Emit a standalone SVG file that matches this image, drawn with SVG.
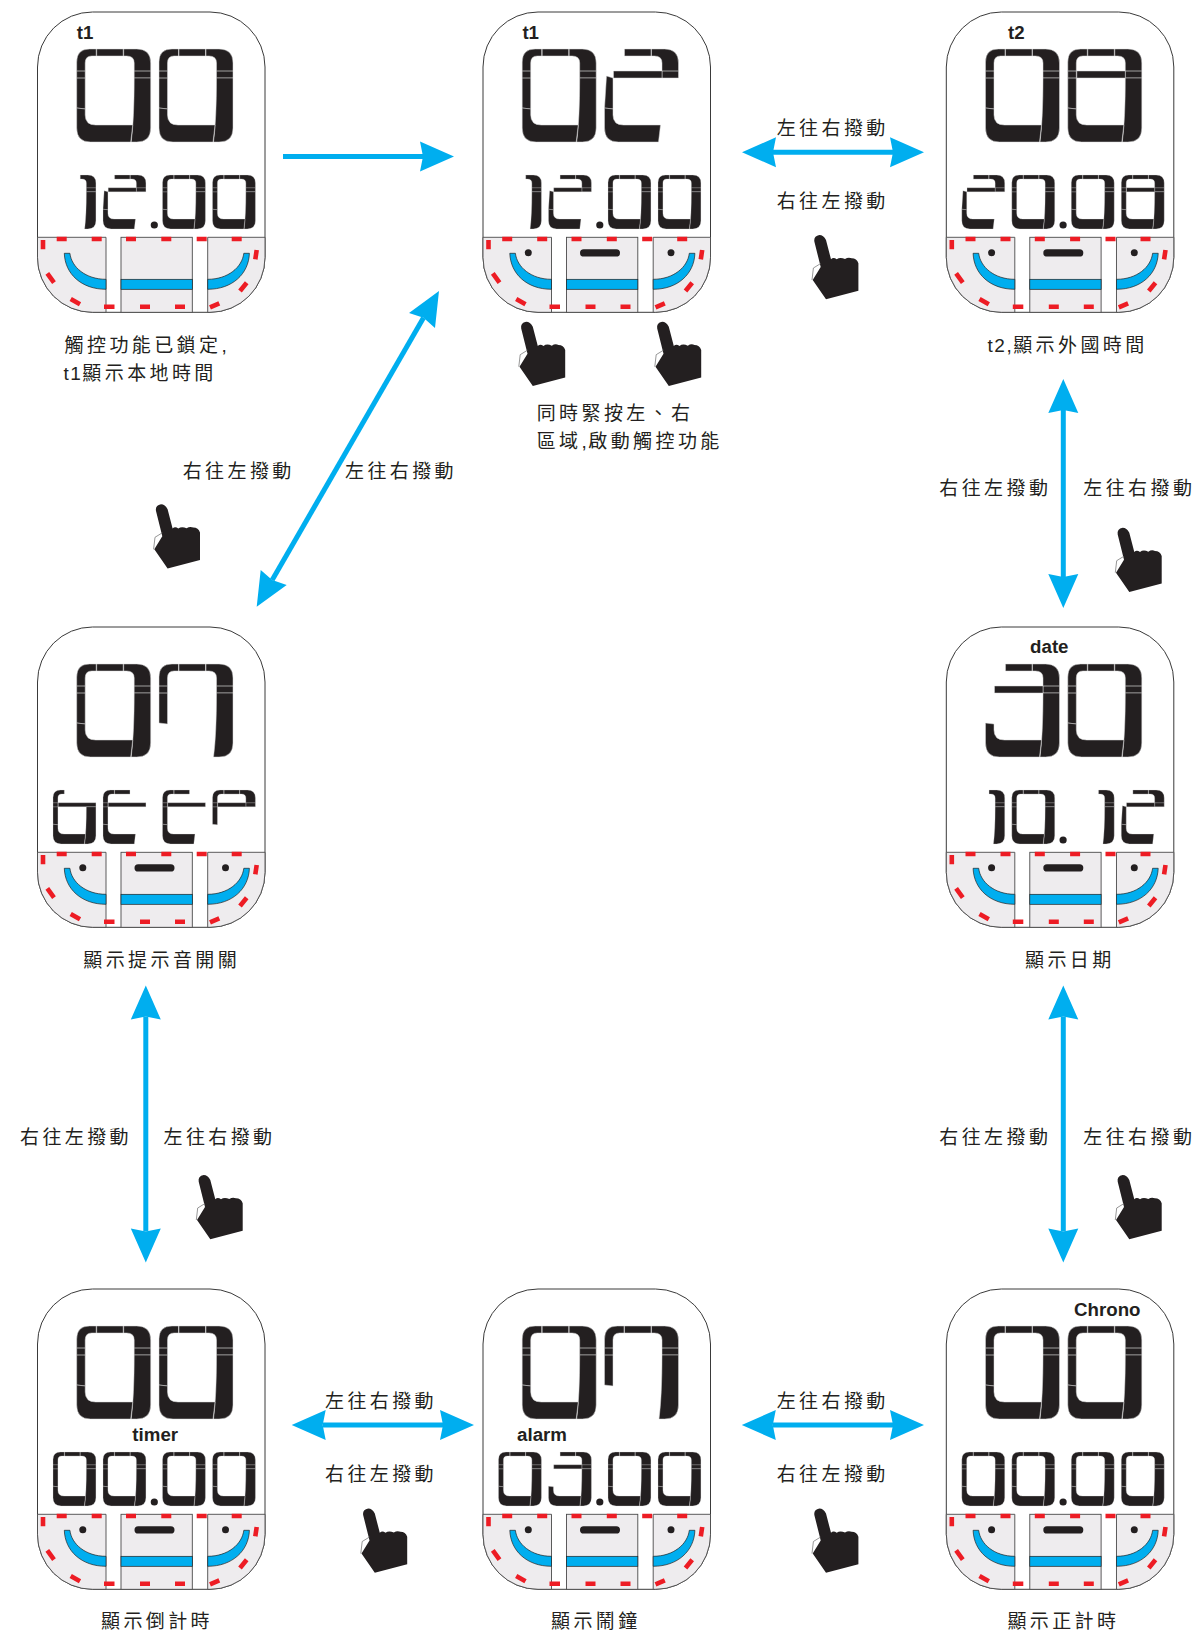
<svg xmlns="http://www.w3.org/2000/svg" width="1195" height="1634" viewBox="0 0 1195 1634">
<style>
.lcd{fill:#231f20;stroke:#d8d8d8;stroke-width:.5}
.seam{fill:none;stroke:#d8d8d8;stroke-width:.7}
.body{fill:#fff;stroke:#3a3a3a;stroke-width:1}
.cell{fill:#eeecee;stroke:#4a4a4a;stroke-width:.9}
.blue{fill:#00aeef;stroke:#222;stroke-width:.7}
.red{fill:none;stroke:#ed1c24;stroke-width:4.6}
.mark{fill:#231f20}
.tag{font-family:"Liberation Sans",Arial,sans-serif;font-weight:700;font-size:18.7px;fill:#231f20;text-anchor:middle}
.cap{font-family:"Noto Sans CJK TC","Noto Sans CJK SC",sans-serif;font-size:19px;letter-spacing:3.4px;fill:#231f20;font-weight:400}
.lat{letter-spacing:1.5px;font-family:"Liberation Sans",Arial,sans-serif}
.arrow{fill:none;stroke:#00aeef;stroke-width:5;marker-end:url(#head)}
.both{marker-start:url(#head)}
.hand{fill:#231f20}
.thumb{fill:none;stroke:#6a6a6a;stroke-width:.7}
</style>
<defs>
<marker id="head" markerUnits="userSpaceOnUse" markerWidth="34" markerHeight="30" refX="3" refY="15" orient="auto-start-reverse" viewBox="0 0 34 30" overflow="visible"><path d="M0,0 L34,15 L0,30 L3,15 Z" fill="#00aeef"/></marker>
<path id="tl" class="lcd" d="M0,59 L0,13 Q0,0 13,0 H19.5 V7 H15 Q8.5,7 8.5,14 L8.5,60 Z"/>
<path id="top" class="lcd" d="M20,0 H46.5 V7 H20 Z"/>
<path id="tr" class="lcd" d="M47,0 H60 Q74,0 74,14 V29 H57.5 V14 Q57.5,7 50,7 H47 Z"/>
<path id="rl" class="lcd" d="M57.5,29 H74 V79 Q74,93 60,93 H54.5 Q57.5,70 57.5,29 Z"/>
<path id="bot" class="lcd" d="M0,59 L8.5,60 V66 Q8.5,76 19,76 H56 Q55,85 54,93 H14 Q0,93 0,79 Z"/>
<path id="mid" class="lcd" d="M9,22 H57.5 V29 H9 Z"/>
<path id="midw" class="lcd" d="M9,22 H74 V29 H9 Z"/>
<path id="ll" class="lcd" d="M2,27 L8.5,29 L8.5,60 L0,59 Z"/>
<path id="sl" class="seam" d="M0,22 H8.5 M0,29 H8.5"/>
<path id="sr" class="seam" d="M57.5,22 H74"/>
<g id="d0"><use href="#tl"/><use href="#top"/><use href="#tr"/><use href="#rl"/><use href="#bot"/><use href="#sl"/><use href="#sr"/></g>
<g id="d1"><use href="#tr"/><use href="#rl"/><use href="#sr"/></g>
<g id="d2"><use href="#top"/><use href="#tr"/><use href="#mid"/><use href="#ll"/><use href="#bot"/><use href="#sr"/></g>
<g id="d3"><use href="#top"/><use href="#tr"/><use href="#mid"/><use href="#rl"/><use href="#bot"/><use href="#sr"/></g>
<g id="d6"><use href="#tl"/><use href="#midw"/><use href="#rl"/><use href="#bot"/><use href="#sl"/></g>
<g id="d7"><use href="#tl"/><use href="#top"/><use href="#tr"/><use href="#rl"/><use href="#sl"/><use href="#sr"/></g>
<g id="d8"><use href="#d0"/><use href="#mid"/></g>
<g id="dE"><use href="#tl"/><use href="#top"/><use href="#midw"/><use href="#bot"/><use href="#sl"/></g>
<g id="dP"><use href="#tl"/><use href="#top"/><use href="#tr"/><use href="#mid"/><use href="#sl"/><use href="#sr"/></g>
<g id="frame">
<rect class="body" x="0" y="0" width="227.5" height="300.3" rx="55" ry="55"/>
<path class="cell" d="M0,225.3 H68.5 V300.3 H55 A55,55 0 0 1 0,245.3 Z"/>
<rect class="cell" x="83.5" y="225.3" width="71.3" height="75"/>
<path class="cell" d="M170.2,225.3 H227.5 V245.3 A55,55 0 0 1 172.5,300.3 H170.2 Z"/>
<path class="blue" d="M26.8,241.3 H32.4 C34,255 48,267.3 68.5,267.3 V277.3 C44,277.3 27.5,262 26.8,241.3 Z"/>
<rect class="blue" x="83.5" y="267.3" width="71.3" height="10"/>
<path class="blue" d="M211.9,241.3 H206.3 C204.7,255 190.7,267.3 170.2,267.3 V277.3 C194.7,277.3 211.2,262 211.9,241.3 Z"/>
<path class="red" d="M19.2,227H29.2M54.2,227H64.2M88.5,227H98.5M123.8,227H133.8M159.2,227H169.2M194.2,227H204.2M66.5,294.7H77M102.5,294.7H112.5M137.5,294.7H147.5M5.5,228V237.3M9.8,261.3L16.5,270.7M33.2,287L42.5,292.3M219.2,238L217.8,247.3M209.2,270.7L202.5,279M181.8,291.3L172.5,295.3"/>
</g>
<g id="marks">
<circle class="mark" cx="45.3" cy="240.7" r="3.5"/>
<circle class="mark" cx="188" cy="240.7" r="3.5"/>
<rect class="mark" x="97" y="237.2" width="40" height="7.4" rx="3.7"/>
</g>
<circle id="dot" class="mark" r="3.6"/>
<g id="h"><path class="hand" d="M1.7,6.7 L8,32 L0,45 L13.3,64.3 L45.7,55.7 V28.3 Q44,23.3 39,23.3 Q35.7,21.7 32.3,24 Q27.3,21.7 24,24.3 Q20.7,21.7 18.3,24.3 L13.3,5 Q10.7,0 6.7,0 Q0.7,1 1.7,6.7 Z"/><path class="thumb" d="M8,28.5 L0.7,33 L-0.7,45"/></g>
</defs>

<g id="connectors">
<path class="arrow" d="M283,156.5 H423"/>
<path class="arrow both" d="M773,152.3 H893"/>
<path class="arrow both" d="M423.5,317.8 L272.2,580"/>
<path class="arrow both" d="M1063.3,410 V577"/>
<path class="arrow both" d="M1063.3,1016.5 V1231.5"/>
<path class="arrow both" d="M145.8,1016.5 V1231.5"/>
<path class="arrow both" d="M322.7,1425 H443"/>
<path class="arrow both" d="M772.8,1425 H893"/>
</g>

<g id="node-t1-locked" transform="translate(37.5,12)" aria-label="t1 00 12.00">
<use href="#frame"/>
<text class="tag" x="47.5" y="27">t1</text>
<use href="#d0" transform="translate(39.2,37)"/><use href="#d0" transform="translate(121.5,37)"/>
<g transform="translate(0,163)"><use href="#d1" transform="translate(15.5,0) scale(.58)"/><use href="#d2" transform="translate(65.5,0) scale(.58)"/><use href="#dot" x="116.8" y="50"/><use href="#d0" transform="translate(125,0) scale(.58)"/><use href="#d0" transform="translate(175,0) scale(.58)"/></g>
</g>

<g id="node-t1-active" transform="translate(483,12)" aria-label="t1 02 12.00">
<use href="#frame"/><use href="#marks"/>
<text class="tag" x="47.7" y="27">t1</text>
<use href="#d0" transform="translate(39.2,37)"/><use href="#d2" transform="translate(121.5,37)"/>
<g transform="translate(0,163)"><use href="#d1" transform="translate(15.5,0) scale(.58)"/><use href="#d2" transform="translate(65.5,0) scale(.58)"/><use href="#dot" x="116.8" y="50"/><use href="#d0" transform="translate(125,0) scale(.58)"/><use href="#d0" transform="translate(175,0) scale(.58)"/></g>
</g>

<g id="node-t2" transform="translate(946.3,12)" aria-label="t2 08 20.08">
<use href="#frame"/><use href="#marks"/>
<text class="tag" x="70" y="27">t2</text>
<use href="#d0" transform="translate(39.2,37)"/><use href="#d8" transform="translate(121.5,37)"/>
<g transform="translate(0,163)"><use href="#d2" transform="translate(15.5,0) scale(.58)"/><use href="#d0" transform="translate(65.5,0) scale(.58)"/><use href="#dot" x="116.8" y="50"/><use href="#d0" transform="translate(125,0) scale(.58)"/><use href="#d8" transform="translate(175,0) scale(.58)"/></g>
</g>

<g id="node-date" transform="translate(946.3,627)" aria-label="date 30 10.12">
<use href="#frame"/><use href="#marks"/>
<text class="tag" x="103" y="26">date</text>
<use href="#d3" transform="translate(39.2,37)"/><use href="#d0" transform="translate(121.5,37)"/>
<g transform="translate(0,163)"><use href="#d1" transform="translate(15.5,0) scale(.58)"/><use href="#d0" transform="translate(65.5,0) scale(.58)"/><use href="#dot" x="116.8" y="50"/><use href="#d1" transform="translate(125,0) scale(.58)"/><use href="#d2" transform="translate(175,0) scale(.58)"/></g>
</g>

<g id="node-beep" transform="translate(37.5,627)" aria-label="07 bEEP">
<use href="#frame"/><use href="#marks"/>
<use href="#d0" transform="translate(39.2,37)"/><use href="#d7" transform="translate(121.5,37)"/>
<g transform="translate(0,163)"><use href="#d6" transform="translate(15.5,0) scale(.58)"/><use href="#dE" transform="translate(65.5,0) scale(.58)"/><use href="#dE" transform="translate(125,0) scale(.58)"/><use href="#dP" transform="translate(175,0) scale(.58)"/></g>
</g>

<g id="node-timer" transform="translate(37.5,1289)" aria-label="timer 00 00.00">
<use href="#frame"/><use href="#marks"/>
<text class="tag" x="117.7" y="152.4">timer</text>
<use href="#d0" transform="translate(39.2,37)"/><use href="#d0" transform="translate(121.5,37)"/>
<g transform="translate(0,163)"><use href="#d0" transform="translate(15.5,0) scale(.58)"/><use href="#d0" transform="translate(65.5,0) scale(.58)"/><use href="#dot" x="116.8" y="50"/><use href="#d0" transform="translate(125,0) scale(.58)"/><use href="#d0" transform="translate(175,0) scale(.58)"/></g>
</g>

<g id="node-alarm" transform="translate(483,1289)" aria-label="alarm 07 03.00">
<use href="#frame"/><use href="#marks"/>
<text class="tag" x="59" y="152.4">alarm</text>
<use href="#d0" transform="translate(39.2,37)"/><use href="#d7" transform="translate(121.5,37)"/>
<g transform="translate(0,163)"><use href="#d0" transform="translate(15.5,0) scale(.58)"/><use href="#d3" transform="translate(65.5,0) scale(.58)"/><use href="#dot" x="116.8" y="50"/><use href="#d0" transform="translate(125,0) scale(.58)"/><use href="#d0" transform="translate(175,0) scale(.58)"/></g>
</g>

<g id="node-chrono" transform="translate(946.3,1289)" aria-label="Chrono 00 00.00">
<use href="#frame"/><use href="#marks"/>
<text class="tag" x="161" y="27">Chrono</text>
<use href="#d0" transform="translate(39.2,37)"/><use href="#d0" transform="translate(121.5,37)"/>
<g transform="translate(0,163)"><use href="#d0" transform="translate(15.5,0) scale(.58)"/><use href="#d0" transform="translate(65.5,0) scale(.58)"/><use href="#dot" x="116.8" y="50"/><use href="#d0" transform="translate(125,0) scale(.58)"/><use href="#d0" transform="translate(175,0) scale(.58)"/></g>
</g>

<g id="hands">
<use href="#h" x="519.5" y="321.7"/><use href="#h" x="655.5" y="321.7"/><use href="#h" x="812.7" y="235"/>
<use href="#h" x="154.3" y="504.3"/><use href="#h" x="1116" y="527.7"/><use href="#h" x="1116" y="1175"/><use href="#h" x="197" y="1175"/><use href="#h" x="361.5" y="1508.5"/><use href="#h" x="812.7" y="1508.5"/>
</g>

<g id="captions">
<text class="cap" x="64.6" y="352">觸控功能已鎖定<tspan class="lat">,</tspan></text>
<text class="cap" x="63.5" y="380"><tspan class="lat">t1</tspan>顯示本地時間</text>
<text class="cap" x="536.7" y="420">同時緊按左、右</text>
<text class="cap" x="536.7" y="447.5">區域<tspan class="lat">,</tspan>啟動觸控功能</text>
<text class="cap" x="987.6" y="352"><tspan class="lat">t2,</tspan>顯示外國時間</text>
<text class="cap" x="83.3" y="967">顯示提示音開關</text>
<text class="cap" x="1025" y="967">顯示日期</text>
<text class="cap" x="101" y="1628">顯示倒計時</text>
<text class="cap" x="551" y="1628">顯示鬧鐘</text>
<text class="cap" x="1007.4" y="1628">顯示正計時</text>
<text class="cap" x="776.7" y="135">左往右撥動</text>
<text class="cap" x="776.7" y="207.5">右往左撥動</text>
<text class="cap" x="182.7" y="477.5">右往左撥動</text>
<text class="cap" x="345" y="477.5">左往右撥動</text>
<text class="cap" x="939.3" y="495">右往左撥動</text>
<text class="cap" x="1083.3" y="495">左往右撥動</text>
<text class="cap" x="939.3" y="1144">右往左撥動</text>
<text class="cap" x="1083.3" y="1144">左往右撥動</text>
<text class="cap" x="20" y="1144">右往左撥動</text>
<text class="cap" x="163.5" y="1144">左往右撥動</text>
<text class="cap" x="325" y="1408">左往右撥動</text>
<text class="cap" x="325" y="1481">右往左撥動</text>
<text class="cap" x="776.7" y="1408">左往右撥動</text>
<text class="cap" x="776.7" y="1481">右往左撥動</text>
</g>
</svg>
